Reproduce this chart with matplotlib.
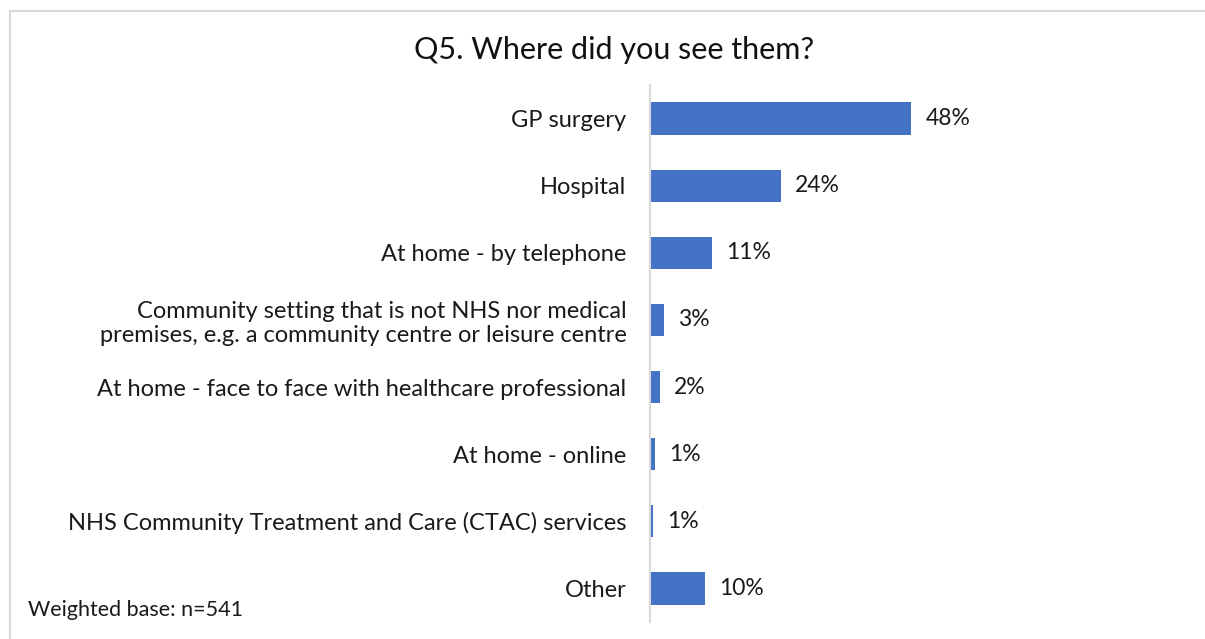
import matplotlib.pyplot as plt
from matplotlib.patches import Rectangle

categories = [
    "GP surgery",
    "Hospital",
    "At home - by telephone",
    "Community setting that is not NHS nor medical\npremises, e.g. a community centre or leisure centre",
    "At home - face to face with healthcare professional",
    "At home - online",
    "NHS Community Treatment and Care (CTAC) services",
    "Other",
]
values = [48.0, 24.1, 11.4, 2.6, 1.8, 0.9, 0.6, 10.1]
labels = ["48%", "24%", "11%", "3%", "2%", "1%", "1%", "10%"]

plt.rcParams['font.family'] = ['Lato', 'DejaVu Sans']

W, H = 1205, 639
fig = plt.figure(figsize=(W / 100, H / 100), dpi=100)

# chart frame (light grey border, cut off at right/bottom)
fig.patches.append(Rectangle((10 / W, -0.05), 1.2, 1 - 11 / H + 0.05,
                             transform=fig.transFigure, fill=False,
                             edgecolor="#D9D9D9", linewidth=1.5))

ax = fig.add_axes([650 / W, 1 - 622 / H, 544 / W, 537 / H])
y = list(range(len(categories)))
ax.barh(y, values, height=0.48, color="#4472C4")
ax.set_ylim(len(categories) - 0.5, -0.5)
ax.set_xlim(0, 100)

for yi, v, lab in zip(y, values, labels):
    ax.text(v + 2.6, yi, lab, va="center", ha="left", fontsize=16.5, color="#1a1a1a")

ax.set_yticks(y)
ax.set_yticklabels(categories, fontsize=17, color="#1a1a1a", linespacing=1.2)
ax.tick_params(axis="y", length=0, pad=17)
ax.set_xticks([])
for s in ["top", "right", "bottom"]:
    ax.spines[s].set_visible(False)
ax.spines["left"].set_color("#D9D9D9")
ax.spines["left"].set_linewidth(1.5)

fig.text(614 / W, 1 - 50 / H, "Q5. Where did you see them?", ha="center", va="center",
         fontsize=22, color="#111111")
fig.text(28 / W, 1 - 610 / H, "Weighted base: n=541", ha="left", va="center",
         fontsize=15.5, color="#1a1a1a")

fig.savefig("out.png", dpi=100, facecolor="white")
